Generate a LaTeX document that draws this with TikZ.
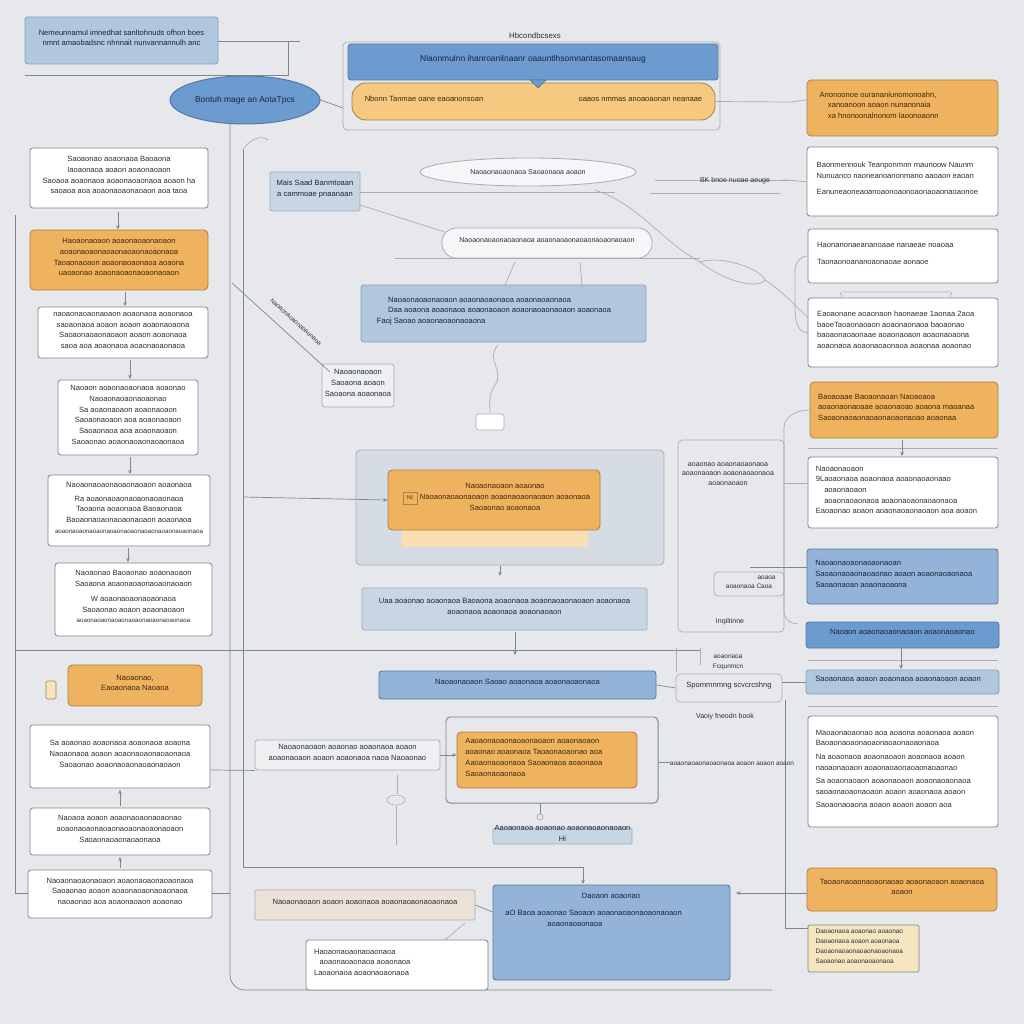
\documentclass[tikz,border=0pt]{standalone}
\usepackage{fontspec}
\setmainfont{Liberation Sans}
\usetikzlibrary{fit,shapes.geometric,arrows.meta,calc}
\definecolor{bg}{HTML}{E7E8EB}
\definecolor{lineg}{HTML}{80868E}
\definecolor{linel}{HTML}{A9AEB5}
\definecolor{txt}{HTML}{2A3038}
\definecolor{orng}{HTML}{EFB25E}
\definecolor{orngl}{HTML}{F5C97F}
\definecolor{odraw}{HTML}{A8814C}
\definecolor{otxt}{HTML}{3E2A0E}
\definecolor{blued}{HTML}{6C9BCF}
\definecolor{bluem}{HTML}{93B3D9}
\definecolor{bluel}{HTML}{B0C7DF}
\definecolor{bluep}{HTML}{C8D6E4}
\definecolor{bdraw}{HTML}{5878A0}
\definecolor{btxt}{HTML}{18263A}
\definecolor{beige}{HTML}{ECE2D8}
\definecolor{yell}{HTML}{F5E6BF}
\definecolor{cont}{HTML}{D6DCE4}
\tikzset{
  base/.style={inner sep=0pt, align=center, font=\fontsize{5.4}{7.6}\selectfont, text=txt},
  wbox/.style={base, draw=lineg, fill=white, rounded corners=2pt, line width=0.6pt},
  gbox/.style={base, draw=linel, fill=bg!70!white, rounded corners=2pt, line width=0.6pt},
  obox/.style={base, draw=odraw, fill=orng, rounded corners=3pt, text=otxt, line width=0.6pt},
  oboxl/.style={base, draw=odraw, fill=orngl, rounded corners=10pt, text=otxt, line width=0.6pt},
  bboxd/.style={base, draw=bdraw, fill=blued, rounded corners=2pt, text=btxt, line width=0.6pt},
  bboxm/.style={base, draw=bdraw, fill=bluem, rounded corners=2pt, text=btxt, line width=0.6pt},
  bboxl/.style={base, draw=bdraw!70, fill=bluel, rounded corners=2pt, text=btxt, line width=0.6pt},
  bboxp/.style={base, draw=bdraw!60, fill=bluep, rounded corners=1pt, text=btxt, line width=0.6pt},
  beigebox/.style={base, draw=linel, fill=beige, rounded corners=1pt, line width=0.6pt},
  yellbox/.style={base, draw=lineg, fill=yell, rounded corners=1pt, line width=0.6pt, font=\fontsize{4.6}{7}\selectfont},
  contbox/.style={base, draw=linel, fill=cont, rounded corners=3pt, line width=0.6pt},
  frame/.style={base, draw=lineg, rounded corners=3pt, line width=0.7pt},
  faint/.style={base, draw=linel, rounded corners=3pt, line width=0.5pt},
  plain/.style={base, font=\fontsize{5}{7}\selectfont},
  conn/.style={draw=lineg, line width=0.5pt},
  connl/.style={draw=linel, line width=0.5pt},
  arr/.style={conn, -{Stealth[length=3pt,width=2.6pt]}},
}
\newcommand\bx[7]{\node[#2, fit={(#3,#4) (#5,#6)}] (#1) {#7};}
\newcommand\ml[2]{\makebox[#1][l]{#2}}
\begin{document}
\begin{tikzpicture}[x=0.025cm,y=-0.025cm]
\fill[bg] (0,0) rectangle (1024,1024);
\useasboundingbox (0,0) rectangle (1024,1024);

% ---------- top left ----------
\bx{tl}{bboxl}{25}{17}{218}{64}{Nemeunnamul imnedhat sanltohnuds ofhon boes\\ nmnt amaobadsnc nhnnait nunvannannulh anc}
\node[ellipse, draw=bdraw, fill=blued, line width=0.7pt, minimum width=150*0.025cm, minimum height=48*0.025cm, inner sep=0pt, font=\fontsize{6}{8}\selectfont, text=btxt] (ell) at (245,100) {Bontuh mage an AotaTpcs};
\draw[conn] (tl.east |- 0,41) -- (300,41);
\draw[conn] (25,75) -| (288,41);
\draw[conn] (ell.east) -- (343,108);

% ---------- top centre ----------
\node[plain, font=\fontsize{5.6}{7}\selectfont] (ttl) at (535,36) {Hbcondbcsexs};
\node[faint, fit={(343,42) (720,130)}, inner sep=0pt] (tcont) {};
\bx{tp}{bboxd}{348}{44}{718}{80}{\fontsize{6}{8}\selectfont Nlaonmulnn ihanroanilnaanr oaauntlhsomnantasomaansaug}
\bx{op}{oboxl}{352}{83}{715}{120}{\makebox[100pt][l]{Nbonn Tanmae oane eaoanonsoan}\hspace{40pt}\makebox[100pt][r]{oaaos nmmas anoaoaonan neanaae}}
\fill[blued, draw=bdraw, line width=0.5pt] (530,80) -- (538,88) -- (546,80) -- cycle;
\draw[connl] (op.east) -- (790,102) to[out=0,in=180] (807,100);

% ---------- right column ----------
\bx{r1}{obox}{807}{80}{998}{136}{\ml{118pt}{Anonoonoe ourananiunomonoahn,}\\ \ml{118pt}{\hspace{6pt}xanoanoon aoaon nunanonaia}\\ \ml{118pt}{\hspace{6pt}xa hnonoonalnonom laoonoaonn}}
\bx{r2}{wbox}{807}{147}{998}{216}{\ml{122pt}{Baonmennouk Teanponmnn maunoow Naunm}\\ \ml{122pt}{Nunuanco naoneanoanonmano aaoaon eaoan}\\[4pt] \ml{122pt}{Eanuneaoneaoanoaonoaonoaonaoaonaoaonoe}}
\bx{r3}{wbox}{808}{229}{998}{283}{\ml{122pt}{Haonanonaeananoaae nanaeae noaoaa}\\[4pt] \ml{122pt}{Taonaonoananoaonaoae aonaoe}}
\bx{r4}{wbox}{808}{298}{998}{367}{\ml{122pt}{Eaoaonane aoaonaon haonaeae 1aonaa 2aoa}\\ \ml{122pt}{baoeTaoaonaoaon aoaonaonaoa baoaonao}\\ \ml{122pt}{baoaonaoaonaae aoaonaoaon aoaonaoaona}\\ \ml{122pt}{aoaonaoa aoaonaoaonaoa aoaonaa aoaonao}}
\draw[connl] (840,292) -- (842,297) (952,292) -- (950,297) (842,292) -- (950,292);
\bx{r5}{obox}{810}{382}{998}{438}{\ml{122pt}{Baoaoaae Baoaonaoan Naoaoaoa}\\ \ml{122pt}{aoaonaonaoaae aoaonaoao aoaona maoanaa}\\ \ml{122pt}{Saoaonaoaonaoaonaoaonaoao aoaonaa}}
\bx{r6}{wbox}{808}{457}{998}{528}{\ml{124pt}{Naoaonaoaon}\\ \ml{124pt}{9Laoaonaoa aoaonaoa aoaonaoaonaao}\\ \ml{124pt}{\hspace{6pt}aoaonaoaon}\\ \ml{124pt}{\hspace{6pt}aoaonaoaonaoa aoaonaoaonaoaonaoa}\\ \ml{124pt}{Eaoaonao aoaon aoaonaoaonaoaon aoa aoaon}}
\bx{r7}{bboxm}{807}{549}{998}{604}{\ml{124pt}{Naoaonaoaonaoaonaoan}\\ \ml{124pt}{Saoaonaoaonaoaonao aoaon aoaonaoaonaoa}\\ \ml{124pt}{Saoaonaoan aoaonaoaona}}
\bx{r8}{bboxd}{806}{622}{999}{648}{Naoaon aoaonaoaonaoaon aoaonaoaonao}
\bx{r9}{bboxl}{806}{670}{999}{694}{\ml{124pt}{Saoaonaoa aoaon aoaonaoa aoaonaoaon aoaon}}
\bx{r10}{wbox}{808}{716}{998}{827}{\ml{124pt}{Maoaonaoaonao aoa aoaona aoaonaoa aoaon}\\ \ml{124pt}{Baoaonaoaonaoaonaoaonaoaonaoa}\\[2pt] \ml{124pt}{Na aoaonaoa aoaonaoaon aoaonaoa aoaon}\\ \ml{124pt}{naoaonaoaon aoaonaoaonaoaonaoaonao}\\[2pt] \ml{124pt}{Sa aoaonaoaon aoaonaoaon aoaonaoaonaoa}\\ \ml{124pt}{saoaonaoaonaoaon aoaon aoaonaoa aoaon}\\[2pt] \ml{124pt}{Saoaonaoaona aoaon aoaon aoaon aoa}}
\bx{r11}{obox}{807}{868}{997}{911}{Taoaonaoaonaoaonaoao aoaonaoaon aoaonaoa\\ aoaon}
\bx{r12}{yellbox}{808}{925}{919}{972}{\ml{68pt}{Daoaonaoa aoaonao aoaonao}\\ \ml{68pt}{Daoaonaoa aoaon aoaonaoa}\\ \ml{68pt}{Daoaonaoaonaoaonaoaonaoa}\\ \ml{68pt}{Saoaonao aoaonaoaonaoa}}
% right separators
\draw[connl] (808,448) -- (998,448) (808,660) -- (998,660) (808,706) -- (998,706);
% right connectors
\draw[connl] (782,180) to[out=0,in=180] (r2.west);
\draw[connl] (r3.west) to[out=180,in=90] (795,270) -- (795,305) to[out=-90,in=180] (r4.west);
\draw[connl] (r5.west) to[out=180,in=90] (784,428) -- (784,612) to[out=-90,in=180] (798,624);
\draw[arr] (902,440) -- (902,456);
\draw[arr] (901,648) -- (901,669);
\draw[conn] (785,700) -- (785,928) -- (r12.west |- 0,928);
\draw[arr] (785,893) -- (736,893);
\draw[conn] (785,893) -- (r11.west |- 0,893);

% ---------- left column ----------
\bx{l1}{wbox}{30}{148}{208}{208}{Saoaonao aoaonaoa Baoaona\\ Iaoaonaoa aoaon aoaonaoaon\hspace{30pt}\\ Saoaoa aoaonaoa aoaonaoaonaoa aoaon ha\\ saoaoa aoa aoaonaoaonaoaon aoa taoa}
\bx{l2}{obox}{30}{230}{208}{290}{Haoaonaoaon aoaonaoaonaoaon\\ aoaonaoaonaoaonaoaonaoaonaoa\\ Taoaonaoaon aoaonaoaonaoa aoaona\\ uaoaonao aoaonaoaonaoaonaoaon}
\bx{l3}{wbox}{38}{307}{208}{358}{naoaonaoaonaoaon aoaonaoa aoaonaoa\\ saoaonaoa aoaon aoaon aoaonaoaona\\ Saoaonaoaonaoaon aoaon aoaonaoa\\ saoa aoa aoaonaoa aoaonaoaonaoa}
\bx{l4}{wbox}{58}{380}{198}{455}{Naoaon aoaonaoaonaoa aoaonao\\ Naoaonaoaonaoaonao\\ Sa aoaonaoaon aoaonaoaon\\ Saoaonaoaon aoa aoaonaoaon\\ Saoaonaoa aoa aoaonaoaon\\ Saoaonao aoaonaoaonaoaonaoa}
\bx{l5}{wbox}{48}{475}{210}{546}{Naoaonaoaonaoaonaoaon aoaonaoa\\[2pt] Ra aoaonaoaonaoaonaoaonaoa\\ Taoaona aoaonaoa Baoaonaoa\\ Baoaonaoaonaoaonaoaon aoaonaoa\\ \fontsize{4.4}{6}\selectfont aoaonaoaonaoaonaoaonaoaonaoaonaoaonaoaonaoa}
\bx{l6}{wbox}{55}{563}{212}{636}{Naoaonao Baoaonao aoaonaoaon\\ Saoaona aoaonaoaonaoaonaoaon\\[3pt] W aoaonaoaonaoaonaoa\\ Saoaonao aoaon aoaonaoaon\\ \fontsize{4.4}{6}\selectfont aoaonaoaonaoaonaoaonaoaonaoaonaoa}
\bx{l7}{obox}{68}{665}{202}{706}{Naoaonao,\\ Eaoaonaoa Naoaoa}
\node[draw=odraw, fill=yell, rounded corners=1pt, minimum width=10*0.025cm, minimum height=18*0.025cm, inner sep=0pt] (tag) at (51,690) {};
\bx{l8}{wbox}{30}{725}{210}{788}{Sa aoaonao aoaonaoa aoaonaoa aoaona\\ Naoaonaoa aoaon aoaonaoaonaoaonaoa\\ Saoaonao aoaonaoaonaoaonaoaon}
\bx{l9}{wbox}{30}{808}{210}{855}{Naoaoa aoaon aoaonaoaonaoaonao\\ aoaonaoaonaoaonaoaonaoaonaoaon\\ Saoaonaoaonaoaonaoa}
\bx{l10}{wbox}{28}{870}{212}{918}{Naoaonaoaonaoaon aoaonaoaonaoaonaoa\\ Saoaonao aoaon aoaonaoaonaoaonaoa\\ naoaonao aoa aoaonaoaon aoaonao}
% left connectors
\draw[arr] (118,212) -- (l2.north -| 118,0);
\draw[arr] (125,292) -- (125,306);
\draw[arr] (130,360) -- (130,379);
\draw[arr] (130,457) -- (130,474);
\draw[arr] (128,548) -- (128,562);
\draw[arr] (120,806) -- (120,790);
\draw[arr] (120,868) -- (120,857);
\draw[conn] (15,215) -- (15,893) -- (l10.west |- 0,893);
\draw[conn] (15,650) -- (700,650);
\draw[conn] (l10.east |- 0,893) -- (230,893);

% ---------- vertical spines ----------
\draw[conn] (230,122) -- (230,975) to[out=-90,in=180] (245,990) -- (772,990);
\draw[conn] (243,150) -- (243,867) -- (583,867);
\draw[connl] (243,150) .. controls (250,138) and (262,135) .. (268,140);

% ---------- middle ----------
\bx{m1}{bboxp}{270}{172}{360}{211}{Mais Saad Banmtoaan\\ a cammoae pnaanaan}
\node[ellipse, draw=linel, fill=white!60!bg, line width=0.6pt, minimum width=216*0.025cm, minimum height=28*0.025cm, inner sep=0pt, font=\fontsize{5}{7}\selectfont, text=txt] (m2) at (528,172) {Naoaonaoaonaoa Saoaonaoa aoaon};
\draw[connl] (360,192) -- (615,192);
\draw[connl] (655,180) -- (795,180);
\node[plain] (m4) at (735,181) {BK bnoe nuoae aeuge};
\draw[connl] (650,193) -- (780,193);
\node[rounded corners=10pt, draw=linel, fill=white!60!bg, line width=0.6pt, fit={(442,228) (652,258)}, inner sep=0pt, font=\fontsize{5}{7}\selectfont, text=txt] (m3) {Naoaonaoaonaoaonaoa aoaonaoaonaoaonaoaonaoaon};
\draw[connl] (395,258) -- (700,258);
\draw[connl] (360,205) -- (445,232);
\draw[connl] (595,190) .. controls (640,205) and (660,240) .. (700,262);
\draw[connl] (700,262) .. controls (720,255) and (760,268) .. (765,280) .. controls (760,288) and (730,285) .. (700,262);
\draw[connl] (765,280) .. controls (780,290) and (790,300) .. (808,318);
\draw[connl] (515,262) -- (505,285);
\draw[connl] (580,262) -- (582,285);
\bx{m5}{bboxl}{361}{285}{646}{342}{\ml{180pt}{\hspace{8pt}Naoaonaoaonaoaon aoaonaoaonaoa aoaonaoaonaoa}\\ \ml{180pt}{\hspace{8pt}Daa aoaona aoaonaoa aoaonaoaon aoaonaoaonaoaon aoaonaoa}\\ \ml{180pt}{Faoj Saoao aoaonaoaonaoaona}}
\bx{m6}{gbox}{322}{364}{394}{407}{Naoaonaoaon\\ Saoaona aoaon\\ Saoaona aoaonaoa}
\draw[conn] (232,283) -- (330,372);
\node[plain, rotate=-42, font=\fontsize{4.4}{6}\selectfont] (dl) at (296,322) {Naoaonaoaonaoaonaoa};
\draw[connl] (498,345) .. controls (485,360) and (505,370) .. (495,385) .. controls (488,395) and (490,405) .. (490,412);
\node[draw=linel, fill=white, rounded corners=2pt, minimum width=28*0.025cm, minimum height=16*0.025cm, inner sep=0pt] (icon) at (490,422) {};

\bx{m7}{contbox}{356}{450}{664}{565}{}
\fill[orngl!60!white] (402,530) rectangle (588,547);
\bx{m8}{obox}{388}{470}{600}{530}{}
\node[base, text=otxt] (m8t) at (505,497) {Naoaonaoaon aoaonao\\ Naoaonaoaonaoaon aoaonaoaonaoaon aoaonaoa\\ Saoaonao aoaonaoa};
\node[draw=odraw, minimum width=14*0.025cm, minimum height=12*0.025cm, inner sep=0pt, font=\fontsize{4}{4}\selectfont, text=otxt] (ic2) at (410,498) {NI};
\draw[arr] (243,497) -- (m8.west);
\draw[arr] (500,566) -- (500,576);
\bx{m9}{bboxp}{362}{588}{647}{630}{Uaa aoaonao aoaonaoa Baoaona aoaonaoa aoaonaoaonaoaon aoaonaoa\\ aoaonaoa aoaonaoa aoaonaoaon}
\draw[arr] (515,632) -- (515,655);

\node[faint, fit={(678,440) (784,632)}] (m10) {};
\node[plain, anchor=north] (m10t) at (728,462) {aoaonao aoaonaoaonaoa\\ aoaonaoaon aoaonaoaonaoa\\ aoaonaoaon};
\draw[connl] (784,483) -- (808,483);
\node[faint, fit={(714,572) (784,596)}, font=\fontsize{4.6}{6}\selectfont] (m10b) {\hspace{25pt}aoaoa\\ aoaonaoa Caoa};
\draw[conn] (750,567) -- (r7.west |- 0,567);
\node[plain] (m10c) at (730,622) {Inqiltinne};
\draw[connl] (676,648) -- (676,672) (700,648) -- (700,665);
\node[plain, font=\fontsize{4.6}{6}\selectfont] (m10d) at (728,657) {aoaonaoa};

\bx{m11}{bboxm}{379}{671}{656}{699}{Naoaonaoaon Saoao aoaonaoa aoaonaoaonaoa}
\bx{m12}{faint}{676}{674}{782}{702}{Spommnmng scvcrcshng}
\node[plain, font=\fontsize{4.6}{6}\selectfont] (m12a) at (728,667) {Fcqunmcn};
\node[plain] (m12b) at (725,717) {Vaoiy fneodn book};
\draw[conn] (m11.east) -- (m12.west);
\draw[conn] (m12.east |- 0,682) -- (r9.west |- 0,682);

\bx{m13}{frame}{446}{717}{658}{803}{}
\bx{m13o}{obox}{457}{732}{637}{788}{\ml{116pt}{Aaoaonaoaonaoaonaoaon aoaonaoaon}\\ \ml{116pt}{aoaonao aoaonaoa Taoaonaoaonao aoa}\\ \ml{116pt}{Aaoaonaoaonaoa Saoaonaoa aoaonaoa}\\ \ml{116pt}{Saoaonaoaonaoa}}
\bx{m14}{gbox}{255}{740}{440}{770}{Naoaonaoaon aoaonao aoaonaoa aoaon\\ aoaonaoaon aoaon aoaonaoa naoa Naoaonao}
\draw[conn] (l8.east |- 0,770) -- (m14.south west);
\draw[arr] (440,755) -- (m13o.west |- 0,755);
\draw[conn] (m13.east |- 0,762) -- (670,762);
\node[plain, font=\fontsize{4.6}{6}\selectfont] (m15) at (732,764) {aoaonaoaonaoaonaoa aoaon aoaon aoaon};
\draw[connl] (397,775) -- (397,794);
\node[draw=linel, ellipse, minimum width=18*0.025cm, minimum height=10*0.025cm, inner sep=0pt] (icon2) at (396,800) {};
\draw[connl] (396,806) -- (396,845);
\draw[conn] (540,803) -- (540,814);
\draw[connl] (540,817) circle (3*0.025cm);
\bx{m16}{bboxp}{493}{828}{632}{844}{Aaoaonaoa aoaonao aoaonaoaonaoaon Hi}
\draw[arr] (583,867) -- (583,884);

\bx{m17}{beigebox}{255}{890}{475}{920}{Naoaonaoaon aoaon aoaonaoa aoaonaoaonaoaonaoa}
\bx{m18}{bboxm}{493}{885}{730}{980}{}
\node[base, text=btxt, anchor=north] (m18t) at (611,893) {Daoaon aoaonao};
\node[base, text=btxt, anchor=north west, align=left] (m18b) at (505,910) {aO Baoa aoaonao Saoaon aoaonaoaonaoaonaoaon\\ \hspace{30pt}aoaonaoaonaoa};
\draw[conn] (m17.east) -- (m18.west |- 0,912);
\draw[connl] (465,923) -- (445,940);
\bx{m19}{wbox}{306}{940}{488}{990}{\ml{118pt}{Haoaonaoaonaoaonaoa}\\ \ml{118pt}{\hspace{4pt}aoaonaoaonaoa aoaonaoa}\\ \ml{118pt}{Laoaonaoa aoaonaoaonaoa}}
\end{tikzpicture}
\end{document}
